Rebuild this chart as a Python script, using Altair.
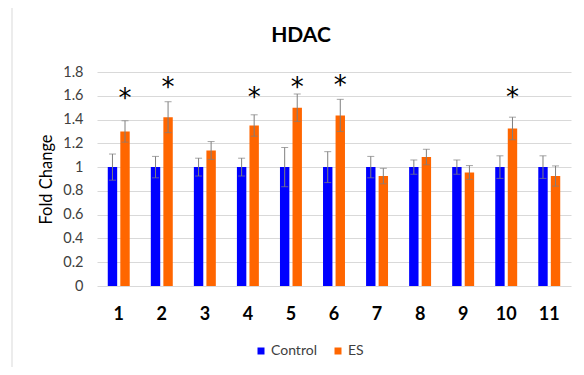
import altair as alt
import pandas as pd

groups = ["1", "2", "3", "4", "5", "6", "7", "8", "9", "10", "11"]
series = ["Control", "ES"]
control_mean = [1.0, 1.0, 1.0, 1.0, 1.0, 1.0, 1.0, 1.0, 1.0, 1.0, 1.0]
control_err = [0.11, 0.09, 0.075, 0.075, 0.165, 0.13, 0.09, 0.06, 0.06, 0.095, 0.095]
es_mean = [1.30, 1.42, 1.14, 1.35, 1.50, 1.435, 0.925, 1.085, 0.955, 1.325, 0.925]
es_err = [0.09, 0.13, 0.075, 0.09, 0.115, 0.135, 0.065, 0.065, 0.058, 0.095, 0.085]
star_groups = ["1", "2", "4", "5", "6", "10"]
star_pos = [1.62, 1.72, 1.63, 1.72, 1.73, 1.63]
y_ticks = [0, 0.2, 0.4, 0.6, 0.8, 1, 1.2, 1.4, 1.6, 1.8]

rows = []
for g, m, e in zip(groups, control_mean, control_err):
    rows.append({"group": g, "series": "Control", "mean": m, "lo": m - e, "hi": m + e})
for g, m, e in zip(groups, es_mean, es_err):
    rows.append({"group": g, "series": "ES", "mean": m, "lo": m - e, "hi": m + e})
df = pd.DataFrame(rows)
star_df = pd.DataFrame({"group": star_groups, "series": ["ES"] * len(star_groups), "pos": star_pos})

FONT = "Lato"
xaxis = alt.Axis(title=None, labelAngle=0, ticks=False, domain=False, grid=False,
                 labelFontSize=18, labelFontWeight="bold", labelColor="#000000",
                 labelFont=FONT, labelPadding=19)
xscale = alt.Scale(paddingInner=0.49, paddingOuter=0.25)
xenc = alt.X("group:N", sort=groups, scale=xscale, axis=xaxis)
xoff = alt.XOffset("series:N", sort=series, scale=alt.Scale(paddingInner=0.25, paddingOuter=0))
yscale = alt.Scale(domain=[0, 1.8], nice=False)
yaxis = alt.Axis(values=y_ticks, format="~g", title="Fold Change", labelOverlap=False,
                 ticks=False, domain=False, gridColor="#d9d9d9",
                 labelFontSize=14.5, labelColor="#404040", labelFont=FONT,
                 labelPadding=14, titleFontSize=16.5, titleFont=FONT,
                 titleFontWeight="normal", titleColor="#000000", titlePadding=8)

base = alt.Chart(df).encode(x=xenc, xOffset=xoff)

bars = base.mark_bar().encode(
    y=alt.Y("mean:Q", scale=yscale, axis=yaxis),
    color=alt.Color("series:N", sort=series,
                    scale=alt.Scale(domain=series, range=["#0000ff", "#ff6600"]),
                    legend=alt.Legend(title=None, orient="none", legendX=157, legendY=272,
                                      direction="horizontal", symbolType="square",
                                      symbolSize=49, symbolStrokeWidth=0,
                                      labelFontSize=14, labelFont=FONT, labelColor="#404040",
                                      columnPadding=14, labelOffset=3)),
)

err = base.mark_rule(color="#7f7f7f", strokeWidth=1).encode(
    y=alt.Y("lo:Q", scale=yscale, axis=yaxis), y2="hi:Q")
cap_hi = base.mark_tick(color="#7f7f7f", size=7, thickness=1).encode(
    y=alt.Y("hi:Q", scale=yscale, axis=yaxis))
cap_lo = base.mark_tick(color="#7f7f7f", size=7, thickness=1).encode(
    y=alt.Y("lo:Q", scale=yscale, axis=yaxis))

stars = alt.Chart(star_df).mark_text(text="*", fontSize=26, font="DejaVu Sans",
                                     color="#000000", baseline="middle", dy=6).encode(
    x=alt.X("group:N", sort=groups, scale=xscale, axis=xaxis),
    xOffset=xoff,
    y=alt.Y("pos:Q", scale=yscale, axis=yaxis))

frame_df = pd.DataFrame({"k": [0]})
frame_left = alt.Chart(frame_df).mark_rule(color="#d9d9d9", strokeWidth=1).encode(
    x=alt.value(-85), y=alt.value(-66), y2=alt.value(295))
frame_top = alt.Chart(frame_df).mark_rule(color="#d9d9d9", strokeWidth=1).encode(
    y=alt.value(-66), x=alt.value(-85), x2=alt.value(479))

chart = alt.layer(frame_left, frame_top, bars, err, cap_hi, cap_lo, stars).properties(
    width=474, height=214,
    title=alt.TitleParams("HDAC", fontSize=21, fontWeight="bold", font=FONT, color="#000000",
                          anchor="middle", frame="group", dx=-33, offset=-40),
    autosize=alt.AutoSizeParams(type="none"),
    padding={"left": 89, "top": 64, "right": 5, "bottom": 81},
).configure_view(stroke=None)

chart.save("out.html", embed_options={"renderer": "svg", "actions": False})
